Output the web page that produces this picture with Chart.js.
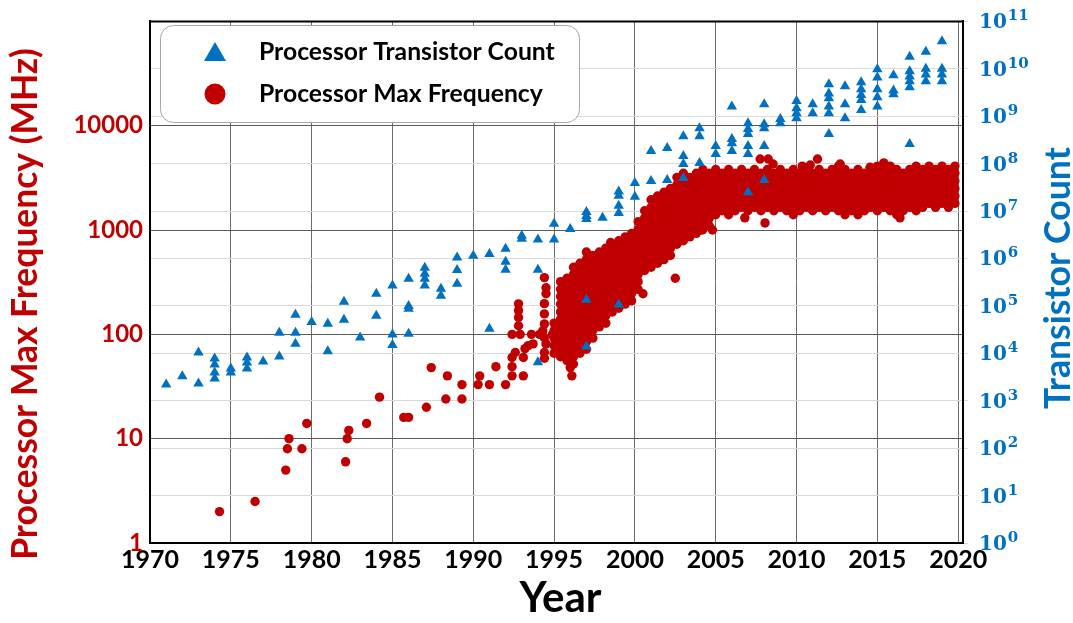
<!DOCTYPE html>
<html>
<head>
<meta charset="utf-8">
<title>Processor transistor count and max frequency</title>
<script src="https://cdn.jsdelivr.net/npm/chart.js@4.4.1/dist/chart.umd.min.js"></script>
<style>
  html, body { margin: 0; padding: 0; background: #ffffff; }
  #c { display: block; }
</style>
</head>
<body>
<canvas id="c" width="1073" height="623"></canvas>
<script>
// ---- data -------------------------------------------------------------
const yearTicks = [1970, 1975, 1980, 1985, 1990, 1995, 2000, 2005, 2010, 2015, 2020];
const freqTicks = [1, 10, 100, 1000, 10000];
const countExponents = [0, 1, 2, 3, 4, 5, 6, 7, 8, 9, 10, 11];

// transistor counts, grouped by release year
const transistorYears = [1971, 1972, 1973, 1974, 1975, 1976, 1977, 1978, 1979, 1980,
  1981, 1982, 1983, 1984, 1985, 1986, 1987, 1988, 1989, 1990,
  1991, 1992, 1993, 1994, 1995, 1996, 1997, 1998, 1999, 2000,
  2001, 2002, 2003, 2004, 2005, 2006, 2007, 2008, 2009, 2010,
  2011, 2012, 2013, 2014, 2015, 2016, 2017, 2018, 2019];
const transistorCounts = [
  [2.2e3], [3.3e3], [2.3e3, 1.04e4], [2.95e3, 3.95e3, 5.8e3, 7.8e3], [3.95e3, 4.8e3],
  [4.8e3, 6.4e3, 8.2e3], [6.7e3], [8.6e3, 2.7e4], [1.6e4, 2.7e4, 6.5e4], [4.6e4],
  [1.1e4, 4.2e4], [5.1e4, 1.23e5], [2.15e4], [6.2e4, 1.8e5], [1.5e4, 2.5e4, 2.7e5],
  [2.6e4, 8.7e4, 1.0e5, 3.75e5], [2.7e5, 3.75e5, 4.75e5, 6.35e5], [1.64e5, 2.3e5],
  [2.95e5, 5.75e5, 1.05e6], [1.14e6],
  [3.3e4, 1.25e6], [5.8e5, 8.5e5, 1.6e6], [2.6e6, 3.0e6], [6.5e3, 5.8e5, 2.5e6], [2.5e6, 5.4e6],
  [4.2e6], [1.39e4, 1.35e5, 6.8e6, 7.9e6, 9.6e6], [7.2e6],
  [1.07e5, 9.1e6, 1.3e7, 2.1e7, 2.6e7], [2.0e7, 3.9e7],
  [4.3e7, 1.85e8], [4.5e7, 2.13e8], [5.0e7, 9.8e7, 1.45e8, 3.8e8], [1.03e8, 3.8e8, 5.6e8],
  [1.59e8, 2.35e8], [1.85e8, 2.7e8, 3.3e8, 1.6e9],
  [2.5e7, 1.59e8, 2.35e8, 4.2e8, 5.35e8, 7.1e8], [4.5e7, 2.35e8, 5.6e8, 6.8e8, 1.8e9],
  [7.1e8, 8.7e8], [9.1e8, 1.15e9, 1.48e9, 2.1e9],
  [1.15e9, 1.8e9], [4.2e8, 1.15e9, 1.6e9, 2.4e9, 3.0e9, 4.7e9], [9.1e8, 1.8e9, 4.3e9],
  [1.35e9, 2.2e9, 2.8e9, 3.7e9, 5.2e9], [1.6e9, 2.5e9, 3.7e9, 6.6e9, 9.8e9],
  [2.9e9, 3.5e9, 7.3e9], [2.6e8, 4.1e9, 5.5e9, 6.9e9, 8.9e9, 1.8e10],
  [5.5e9, 7.6e9, 1.0e10, 2.3e10], [5.5e9, 7.6e9, 1.0e10, 3.8e10]
];

// max clock frequency (MHz) of individual early processors
const freqEarlyYears = [1974.3, 1976.5, 1978.4, 1978.5, 1978.6, 1979.4, 1979.7, 1982.1, 1982.2, 1982.3,
  1983.4, 1984.2, 1985.7, 1986.0, 1987.1, 1987.4, 1988.3, 1988.4, 1989.3, 1989.3,
  1990.3, 1990.4, 1991.0, 1991.4, 1992.0, 1992.4, 1992.4, 1992.4, 1992.6, 1993.1,
  1993.1, 1993.2, 1993.4, 1993.7, 1992.4, 1992.9, 1993.6, 1994.1, 1994.9, 1992.8,
  1992.8, 1992.8, 1992.8, 1994.4, 1994.5, 1994.5, 1994.4, 1994.4, 1994.4, 1994.3,
  1994.4, 1994.5, 1994.4, 1994.4];
const freqEarlyMHz = [2, 2.5, 5, 8, 10, 8, 14, 6, 10, 12,
  14, 25, 16, 16, 20, 48, 24, 40, 24, 33,
  33, 40, 33, 49, 33, 40, 49, 60, 67, 40,
  60, 73, 78, 81, 100, 100, 100, 100, 100, 121,
  145, 169, 196, 350, 280, 245, 197, 157, 126, 108,
  93, 81, 67, 59];

// dense cloud of processors from 1995 on, sampled column by column (year, MHz list)
const freqCloudYears = [1995.0, 1995.4, 1995.8, 1996.2, 1996.6, 1997.0, 1997.4, 1997.8, 1998.2, 1998.6,
  1999.0, 1999.4, 1999.8, 2000.2, 2000.6, 2001.0, 2001.4, 2001.8, 2002.2, 2002.6,
  2003.0, 2003.4, 2003.8, 2004.2, 2004.6, 2005.0, 2005.4, 2005.8, 2006.2, 2006.6,
  2007.0, 2007.4, 2007.8, 2008.2, 2008.6, 2009.0, 2009.4, 2009.8, 2010.2, 2010.6,
  2011.0, 2011.4, 2011.8, 2012.2, 2012.6, 2013.0, 2013.4, 2013.8, 2014.2, 2014.6,
  2015.0, 2015.4, 2015.8, 2016.2, 2016.6, 2017.0, 2017.4, 2017.8, 2018.2, 2018.6,
  2019.0, 2019.4, 2019.8];
const freqCloudMHz = [
  [128, 109, 92, 78, 66],
  [320, 270, 230, 195, 164, 139, 118, 100, 85, 72, 61],
  [345, 293, 248, 210, 178, 151, 128, 109, 92, 78, 66, 56],
  [440, 375, 320, 270, 230, 195, 164, 139, 118, 100, 85, 72, 61, 52],
  [480, 410, 345, 293, 248, 210, 178, 151, 128, 109, 92, 78, 66],
  [615, 520, 440, 375, 320, 270, 230, 195, 164, 139, 118, 100, 85, 72],
  [570, 480, 410, 345, 293, 248, 210, 178, 151, 128, 109, 92],
  [615, 520, 440, 375, 320, 270, 230, 195, 164, 139, 118],
  [670, 570, 480, 410, 345, 293, 248, 210, 178, 151, 128],
  [730, 615, 520, 440, 375, 320, 270, 230, 195, 164],
  [790, 670, 570, 480, 410, 345, 293, 248, 210, 178],
  [860, 730, 615, 520, 440, 375, 320, 270, 230, 195],
  [930, 790, 670, 570, 480, 410, 345, 293, 248, 210],
  [1200, 1010, 860, 730, 615, 520, 440, 375, 320, 270],
  [1530, 1300, 1100, 930, 790, 670, 570, 480, 410],
  [1950, 1650, 1400, 1200, 1010, 860, 730, 615, 520, 440],
  [2120, 1800, 1530, 1300, 1100, 930, 790, 670, 570, 480],
  [2300, 1950, 1650, 1400, 1200, 1010, 860, 730, 615, 520],
  [2500, 2120, 1800, 1530, 1300, 1100, 930, 790, 670, 570],
  [3200, 2720, 2300, 1950, 1650, 1400, 1200, 1010, 860, 730],
  [3500, 2950, 2500, 2120, 1800, 1530, 1300, 1100, 930, 790],
  [3200, 2720, 2300, 1950, 1650, 1400, 1200, 1010, 860],
  [3500, 2950, 2500, 2120, 1800, 1530, 1300, 1100, 930],
  [3800, 3200, 2720, 2300, 1950, 1650, 1400, 1200, 1010],
  [3500, 2950, 2500, 2120, 1800, 1530, 1300, 1100],
  [3800, 3200, 2720, 2300, 1950, 1650, 1400],
  [3500, 2950, 2500, 2120, 1800, 1530],
  [3800, 3200, 2720, 2300, 1950, 1650, 1400],
  [3500, 2950, 2500, 2120, 1800, 1530],
  [3800, 3200, 2720, 2300, 1950, 1650],
  [3500, 2950, 2500, 2120, 1800, 1530],
  [3800, 3200, 2720, 2300, 1950, 1650],
  [3500, 2950, 2500, 2120, 1800, 1530],
  [3800, 3200, 2720, 2300, 1950, 1650],
  [3500, 2950, 2500, 2120, 1800, 1530],
  [3800, 3200, 2720, 2300, 1950, 1650],
  [3500, 2950, 2500, 2120, 1800, 1530],
  [3800, 3200, 2720, 2300, 1950, 1650, 1400],
  [3500, 2950, 2500, 2120, 1800, 1530],
  [3800, 3200, 2720, 2300, 1950, 1650],
  [3500, 2950, 2500, 2120, 1800, 1530],
  [3800, 3200, 2720, 2300, 1950, 1650],
  [3500, 2950, 2500, 2120, 1800, 1530],
  [3800, 3200, 2720, 2300, 1950, 1650],
  [4100, 3500, 2950, 2500, 2120, 1800, 1530],
  [3800, 3200, 2720, 2300, 1950, 1650, 1400],
  [3500, 2950, 2500, 2120, 1800, 1530],
  [3800, 3200, 2720, 2300, 1950, 1650, 1400],
  [3500, 2950, 2500, 2120, 1800, 1530],
  [3800, 3200, 2720, 2300, 1950, 1650],
  [4100, 3500, 2950, 2500, 2120, 1800, 1530],
  [3800, 3200, 2720, 2300, 1950, 1650],
  [4100, 3500, 2950, 2500, 2120, 1800, 1530],
  [3800, 3200, 2720, 2300, 1950, 1650, 1400],
  [3500, 2950, 2500, 2120, 1800, 1530],
  [3800, 3200, 2720, 2300, 1950, 1650],
  [4100, 3500, 2950, 2500, 2120, 1800, 1530],
  [3800, 3200, 2720, 2300, 1950, 1650],
  [4100, 3500, 2950, 2500, 2120, 1800],
  [3800, 3200, 2720, 2300, 1950, 1650],
  [4100, 3500, 2950, 2500, 2120, 1800],
  [3800, 3200, 2720, 2300, 1950, 1650],
  [4100, 3500, 2950, 2500, 2120, 1800]
];

// processors standing apart from the cloud
const freqOutlierYears = [1996.0, 1996.1, 1998.5, 2000.5, 2002.5, 2004.15, 2004.8, 2006.8, 2008.05, 2016.4,
  2007.75, 2008.25, 2008.55, 2010.35, 2010.85, 2011.3, 2012.7, 2014.55, 2015.4];
const freqOutlierMHz = [48, 40, 760, 245, 345, 1000, 1000, 1310, 1170, 1310,
  4800, 4800, 4300, 4100, 4200, 4800, 4300, 4000, 4400];

// ---- styles -----------------------------------------------------------
const RED = '#C00000';
const BLUE = '#0070C0';
const SANS = 'Lato, "Open Sans", sans-serif';
const NARROW = '"Liberation Sans Narrow", "Arial Narrow", Lato, sans-serif';
const SERIF = '"DejaVu Serif", "Liberation Serif", serif';

// ---- build point lists ------------------------------------------------
const transistorPoints = [];
transistorYears.forEach((yr, i) => transistorCounts[i].forEach(c => transistorPoints.push({ x: yr, y: c })));

const freqPoints = [];
freqEarlyYears.forEach((yr, i) => freqPoints.push({ x: yr, y: freqEarlyMHz[i] }));
freqCloudYears.forEach((yr, i) => freqCloudMHz[i].forEach(v => freqPoints.push({ x: yr, y: v })));
freqOutlierYears.forEach((yr, i) => freqPoints.push({ x: yr, y: freqOutlierMHz[i] }));

// scale a font so the text spans a given width
function fittedSize(ctx, text, family, target, base) {
  ctx.font = 'bold ' + base + 'px ' + family;
  return base * target / ctx.measureText(text).width;
}

// frame, axis titles, superscript tick labels and the boxed legend
const decor = {
  id: 'decor',
  beforeDatasetsDraw(chart) {
    const { ctx, chartArea: a } = chart;
    ctx.save();
    ctx.strokeStyle = '#000';
    ctx.lineWidth = 2;
    ctx.beginPath();
    ctx.moveTo(a.left - 1, a.top);
    ctx.lineTo(a.right + 1, a.top);
    ctx.stroke();
    ctx.restore();
  },
  afterDraw(chart) {
    const { ctx, chartArea: a } = chart;
    const yScale = chart.scales.y;
    const y2Scale = chart.scales.y2;
    const xScale = chart.scales.x;
    ctx.save();

    // left axis title
    const leftTitle = yScale.options.title.text;
    let s = fittedSize(ctx, leftTitle, SANS, 512, 32);
    ctx.font = 'bold ' + s + 'px ' + SANS;
    ctx.fillStyle = RED;
    ctx.textAlign = 'center';
    ctx.textBaseline = 'alphabetic';
    ctx.save();
    ctx.translate(37, 304);
    ctx.rotate(-Math.PI / 2);
    ctx.fillText(leftTitle, 0, 0);
    ctx.restore();

    // right axis title
    const rightTitle = y2Scale.options.title.text;
    s = fittedSize(ctx, rightTitle, SANS, 262, 32);
    ctx.font = 'bold ' + s + 'px ' + SANS;
    ctx.fillStyle = BLUE;
    ctx.save();
    ctx.translate(1070, 278);
    ctx.rotate(-Math.PI / 2);
    ctx.fillText(rightTitle, 0, 0);
    ctx.restore();

    // x axis title
    const xTitle = xScale.options.title.text;
    s = fittedSize(ctx, xTitle, SANS, 82, 40);
    ctx.font = 'bold ' + s + 'px ' + SANS;
    ctx.fillStyle = '#000';
    ctx.fillText(xTitle, (a.left + a.right) / 2 + 4, 612);

    // right axis tick labels: 10 with a raised exponent
    ctx.fillStyle = BLUE;
    ctx.textAlign = 'left';
    countExponents.forEach(k => {
      const py = y2Scale.getPixelForValue(Math.pow(10, k));
      ctx.font = 'bold 20px ' + SERIF;
      ctx.fillText('10', a.right + 16, py + 7);
      const w = ctx.measureText('10').width;
      ctx.font = 'bold 15px ' + SERIF;
      ctx.fillText(String(k), a.right + 17 + w, py - 1);
    });

    // legend box
    const bx = 160.5, by = 25.5, bw = 419, bh = 97;
    ctx.beginPath();
    ctx.roundRect(bx, by, bw, bh, 13);
    ctx.fillStyle = '#ffffff';
    ctx.fill();
    ctx.strokeStyle = '#a6a6a6';
    ctx.lineWidth = 1;
    ctx.stroke();

    const ds = chart.data.datasets;
    // triangle marker
    ctx.fillStyle = ds[0].backgroundColor;
    ctx.beginPath();
    ctx.moveTo(215, 42);
    ctx.lineTo(226, 61);
    ctx.lineTo(204, 61);
    ctx.closePath();
    ctx.fill();
    // circle marker
    ctx.fillStyle = ds[1].backgroundColor;
    ctx.beginPath();
    ctx.arc(215, 94, 10.5, 0, Math.PI * 2);
    ctx.fill();

    s = fittedSize(ctx, ds[0].label, SANS, 296, 26);
    ctx.font = 'bold ' + s + 'px ' + SANS;
    ctx.fillStyle = '#000';
    ctx.textAlign = 'left';
    ctx.fillText(ds[0].label, 259, 60);
    ctx.fillText(ds[1].label, 259, 102);

    ctx.restore();
  }
};

new Chart(document.getElementById('c'), {
  type: 'scatter',
  data: {
    datasets: [
      {
        label: 'Processor Transistor Count',
        data: transistorPoints,
        yAxisID: 'y2',
        pointStyle: 'triangle',
        pointRadius: 6,
        backgroundColor: BLUE,
        borderColor: BLUE,
        borderWidth: 0
      },
      {
        label: 'Processor Max Frequency',
        data: freqPoints,
        yAxisID: 'y',
        pointStyle: 'circle',
        pointRadius: 4.7,
        backgroundColor: RED,
        borderColor: RED,
        borderWidth: 0
      }
    ]
  },
  options: {
    responsive: false,
    animation: false,
    devicePixelRatio: 1,
    events: [],
    layout: { padding: { top: 20, left: 0, right: 0, bottom: 0 } },
    plugins: { legend: { display: false }, tooltip: { enabled: false } },
    scales: {
      x: {
        type: 'linear',
        min: 1970,
        max: 2020.3,
        afterBuildTicks: sc => { sc.ticks = yearTicks.map(v => ({ value: v })); },
        afterFit: sc => { sc.height = 80; },
        title: { display: false, text: 'Year' },
        grid: { color: '#6b6b6b', lineWidth: 1, drawTicks: false },
        border: { display: true, color: '#000', width: 2 },
        ticks: {
          color: '#000',
          font: { family: NARROW, size: 25, weight: 'bold' },
          padding: 2,
          maxRotation: 0,
          autoSkip: false,
          callback: v => String(v)
        }
      },
      y: {
        type: 'logarithmic',
        position: 'left',
        min: 1,
        max: 1e5,
        afterBuildTicks: sc => { sc.ticks = freqTicks.map(v => ({ value: v })); },
        afterFit: sc => { sc.width = 150; },
        title: { display: false, text: 'Processor Max Frequency (MHz)' },
        grid: { color: '#5a5a5a', lineWidth: 1, drawTicks: false },
        border: { display: true, color: '#000', width: 2 },
        ticks: {
          color: RED,
          font: { family: SANS, size: 24, weight: 'bold' },
          padding: 7,
          callback: v => String(v)
        }
      },
      y2: {
        type: 'logarithmic',
        position: 'right',
        min: 1,
        max: 1e11,
        afterBuildTicks: sc => { sc.ticks = countExponents.map(k => ({ value: Math.pow(10, k) })); },
        afterFit: sc => { sc.width = 110; },
        title: { display: false, text: 'Transistor Count' },
        grid: { color: '#d9d9d9', lineWidth: 1, drawTicks: true, tickLength: 5 },
        border: { display: true, color: '#000', width: 2 },
        ticks: { display: false }
      }
    }
  },
  plugins: [decor]
});
</script>
</body>
</html>
